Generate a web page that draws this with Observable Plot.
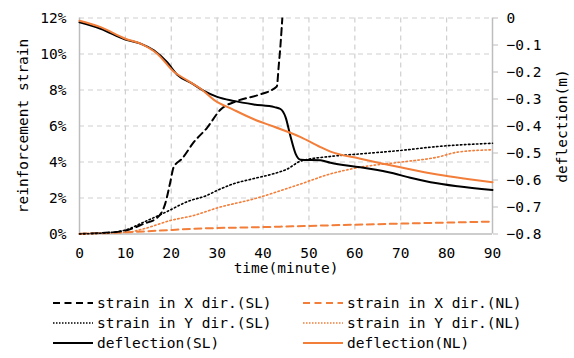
<!DOCTYPE html>
<html>
<head>
<meta charset="utf-8">
<script src="https://cdn.jsdelivr.net/npm/d3@7"></script>
<script src="https://cdn.jsdelivr.net/npm/@observablehq/plot@0.6"></script>
<style>
  html, body { margin: 0; padding: 0; background: #fff; }
  #chart svg { display: block; }
</style>
</head>
<body>
<div id="chart"></div>
<script>
// ---- data (time in minutes) ----
const defSL_t = [0, 4.6, 10, 13.3, 16.2, 19.1, 21.3, 24.6, 27.1, 30, 33.6, 38, 42.5, 43.8, 44.9, 46, 47.1, 48.2, 52.5, 54.7, 61.2, 68.4, 72.1, 76.5, 82.4, 90];
const defSL_v = [-0.016, -0.040, -0.080, -0.095, -0.120, -0.164, -0.210, -0.243, -0.270, -0.292, -0.307, -0.320, -0.330, -0.337, -0.367, -0.440, -0.503, -0.525, -0.527, -0.536, -0.553, -0.575, -0.592, -0.608, -0.623, -0.637];

const defNL_t = [0, 4.6, 10, 13.3, 17, 20.5, 23.5, 26.4, 29.3, 33.6, 38, 42.3, 48.2, 52.5, 54.7, 61.2, 69.9, 78, 84.5, 90];
const defNL_v = [-0.010, -0.034, -0.077, -0.095, -0.133, -0.198, -0.231, -0.262, -0.303, -0.340, -0.375, -0.402, -0.441, -0.478, -0.495, -0.521, -0.553, -0.580, -0.596, -0.608];

const sxSL_t = [0, 4.6, 10, 14, 16.9, 18.7, 19.8, 20.5, 22.4, 24.9, 27.8, 30.7, 34.4, 38.7, 43, 43.4, 43.8, 44.2, 44.5];
const sxSL_v = [0, 0.05, 0.19, 0.57, 0.9, 1.7, 2.9, 3.7, 4.2, 5.1, 5.9, 6.9, 7.4, 7.7, 8.2, 9.3, 10.5, 12, 13.2];

const sySL_t = [0, 5, 10, 14, 19.1, 23.5, 27.8, 30, 33.6, 38, 42.3, 45.2, 48.2, 54.7, 61.2, 69.9, 78, 90];
const sySL_v = [0, 0.05, 0.22, 0.66, 1.25, 1.8, 2.15, 2.42, 2.79, 3.08, 3.35, 3.6, 4.05, 4.31, 4.45, 4.64, 4.86, 5.04];

const sxNL_t = [0, 10.4, 17.6, 24.9, 39.4, 59, 90];
const sxNL_v = [0, 0.1, 0.19, 0.29, 0.38, 0.51, 0.69];

const syNL_t = [0, 10.4, 14, 19.8, 24.9, 30, 38, 48.2, 54.7, 61.2, 69.9, 78, 82.4, 90];
const syNL_v = [0.03, 0.1, 0.29, 0.75, 1.03, 1.45, 1.95, 2.78, 3.34, 3.71, 3.99, 4.27, 4.55, 4.68];

const xTicks = [0, 10, 20, 30, 40, 50, 60, 70, 80, 90];
const strainTicks = [0, 2, 4, 6, 8, 10, 12];        // percent
const deflTicks = [0, -0.1, -0.2, -0.3, -0.4, -0.5, -0.6, -0.7, -0.8];

const xLabel = "time(minute)";
const yLabelLeft = "reinforcement strain";
const yLabelRight = "deflection(m)";

const legendItems = [
  {label: "strain in X dir.(SL)", color: "#000000", dash: "7,4.5", width: 2, col: 0, row: 0},
  {label: "strain in Y dir.(SL)", color: "#000000", dash: "1.5,1.5", width: 1.5, col: 0, row: 1},
  {label: "deflection(SL)", color: "#000000", dash: null, width: 2, col: 0, row: 2},
  {label: "strain in X dir.(NL)", color: "#F27E3A", dash: "7,4.5", width: 2, col: 1, row: 0},
  {label: "strain in Y dir.(NL)", color: "#F27E3A", dash: "1.5,1.5", width: 1.5, col: 1, row: 1},
  {label: "deflection(NL)", color: "#F27E3A", dash: null, width: 2, col: 1, row: 2}
];

// deflection (0 .. -0.8 m) mapped onto strain axis (12 .. 0 %)
const d2s = d => (d + 0.8) * 15;
const zip = (ts, vs) => ts.map((t, i) => ({t, v: vs[i]}));
const zipD = (ts, vs) => ts.map((t, i) => ({t, v: d2s(vs[i])}));

const BLACK = "#000000", ORANGE = "#F27E3A";
const FONT = "'DejaVu Sans Mono', 'Liberation Mono', monospace";

const chart = Plot.plot({
  width: 574,
  height: 280,
  marginLeft: 79,
  marginRight: 82,
  marginTop: 17.5,
  marginBottom: 46.5,
  style: {fontFamily: FONT, fontSize: "14.5px", color: "#000", background: "#fff"},
  x: {domain: [0, 90]},
  y: {domain: [0, 12]},
  marks: [
    Plot.gridX(xTicks.slice(1, -1), {stroke: "#cfcfcf", strokeOpacity: 1, strokeDasharray: "5,4", strokeWidth: 1.2}),
    Plot.gridY(strainTicks.slice(1), {stroke: "#cfcfcf", strokeOpacity: 1, strokeDasharray: "5,4", strokeWidth: 1.2}),
    Plot.ruleX([0, 90], {stroke: "#bdbdbd", strokeWidth: 1.5}),
    Plot.ruleY([0], {stroke: "#bdbdbd", strokeWidth: 1.5}),
    Plot.axisX(xTicks, {tickSize: 0, tickPadding: 14, label: null, fontSize: 14.5}),
    Plot.axisY(strainTicks, {anchor: "left", tickSize: 0, tickPadding: 13, tickFormat: d => d + "%", label: null, fontSize: 14.5}),
    Plot.axisY(deflTicks.map(d2s), {
      anchor: "right", tickSize: 5, tickPadding: 9, stroke: "#bdbdbd", label: null, fontSize: 14.5,
      tickFormat: v => { const d = Math.round((v / 15 - 0.8) * 10) / 10; return d === 0 ? "0" : "\u2212" + Math.abs(d).toFixed(1); }
    }),
    Plot.text([xLabel], {frameAnchor: "bottom", dy: 39, textAnchor: "middle", fontSize: 14.5, fill: "#000"}),
    Plot.text([yLabelLeft], {frameAnchor: "left", dx: -56, rotate: -90, textAnchor: "middle", fontSize: 14.5, fill: "#000"}),
    Plot.text([yLabelRight], {frameAnchor: "right", dx: 70, rotate: -90, textAnchor: "middle", fontSize: 14.5, fill: "#000"}),
    // series
    Plot.line(zip(sxNL_t, sxNL_v), {x: "t", y: "v", stroke: ORANGE, strokeWidth: 2, strokeDasharray: "7,4.5", curve: "monotone-x"}),
    Plot.line(zip(syNL_t, syNL_v), {x: "t", y: "v", stroke: ORANGE, strokeWidth: 1.6, strokeDasharray: "1.5,2.5", curve: "monotone-x"}),
    Plot.line(zip(sySL_t, sySL_v), {x: "t", y: "v", stroke: BLACK, strokeWidth: 1.6, strokeDasharray: "1.5,2.5", curve: "monotone-x"}),
    Plot.line(zip(sxSL_t, sxSL_v), {x: "t", y: "v", stroke: BLACK, strokeWidth: 2, strokeDasharray: "7,4.5", curve: "monotone-x", clip: true}),
    Plot.line(zipD(defSL_t, defSL_v), {x: "t", y: "v", stroke: BLACK, strokeWidth: 2, curve: "monotone-x"}),
    Plot.line(zipD(defNL_t, defNL_v), {x: "t", y: "v", stroke: ORANGE, strokeWidth: 2, curve: "monotone-x"})
  ]
});
document.getElementById("chart").appendChild(chart);

// ---- legend below the chart ----
const lg = d3.select("#chart").append("svg")
  .attr("width", 574).attr("height", 78)
  .style("font-family", FONT).style("font-size", "14.5px");
const colX = [53, 303];
const rowY = [23, 43, 63];
for (const it of legendItems) {
  const g = lg.append("g").attr("transform", `translate(${colX[it.col]},${rowY[it.row]})`);
  g.append("line").attr("x1", 0).attr("x2", 40).attr("y1", 0).attr("y2", 0)
    .attr("stroke", it.color).attr("stroke-width", it.width)
    .attr("stroke-dasharray", it.dash);
  g.append("text").attr("x", 44).attr("y", 0).attr("dy", "0.35em").attr("fill", "#000").text(it.label);
}
</script>
</body>
</html>
